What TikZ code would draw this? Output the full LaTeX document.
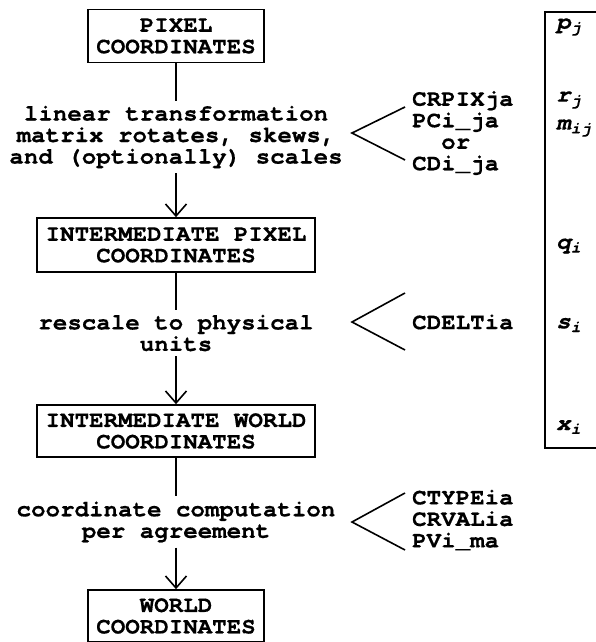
\documentclass[tikz,border=0pt]{standalone}
\usepackage{fontspec}
\setmonofont{texgyrecursor-regular.otf}[
  BoldFont=texgyrecursor-bold.otf,
  ItalicFont=texgyrecursor-italic.otf,
  BoldItalicFont=texgyrecursor-bolditalic.otf,
  BoldFeatures={FakeBold=0.4},
  BoldItalicFeatures={FakeBold=0.4},
  FakeStretch=1.05]
\usetikzlibrary{arrows.meta}

\begin{document}
\begin{tikzpicture}[x=1pt,y=-1pt,
  cfont/.style={font=\ttfamily\bfseries\fontsize{23}{21.5}\selectfont},
  cbox/.style={cfont, draw, line width=1.6pt, align=center, inner sep=0pt},
  lbl/.style={cfont, align=center, inner xsep=0pt, inner ysep=5pt},
  prm/.style={cfont, align=left, anchor=west, inner sep=0pt},
  var/.style={font=\ttfamily\bfseries\itshape\fontsize{23}{21.5}\selectfont, anchor=west, inner sep=0pt},
  flow/.style={line width=1.6pt, -{Straight Barb[length=12pt,width=21pt,line width=1.6pt]}},
  wedge/.style={line width=1.6pt}]
\useasboundingbox (0,0) rectangle (595,642);

%%%%%%%%%%%%%%%%%%%%%%%%%%%%%%%
\node[cbox, minimum width=176pt, minimum height=53pt] (pix) at (176,36) {PIXEL\\COORDINATES};
\node[lbl] (lin) at (176,137) {linear transformation\\matrix rotates, skews,\\and (optionally) scales};
\node[cbox, minimum width=278pt, minimum height=54pt] (ipix) at (176,245) {INTERMEDIATE PIXEL\\COORDINATES};
\node[lbl] (rsc) at (176,333) {rescale to physical\\units};
\node[cbox, minimum width=278pt, minimum height=52pt] (iwld) at (176,431) {INTERMEDIATE WORLD\\COORDINATES};
\node[lbl] (cmp) at (176,522) {coordinate computation\\per agreement};
\node[cbox, minimum width=176pt, minimum height=52pt] (wld) at (176,616) {WORLD\\COORDINATES};

\draw[line width=1.6pt] (pix) -- (lin);
\draw[flow] (lin) -- (ipix);
\draw[line width=1.6pt] (ipix) -- (rsc);
\draw[flow] (rsc) -- (iwld);
\draw[line width=1.6pt] (iwld) -- (cmp);
\draw[flow] (cmp) -- (wld);

%%%%%%%%%%%%%%%%%%%%%%%%%%%%%%%
\node[prm] (crpix) at (412,133) {CRPIXja\\PCi\_ja\\\phantom{CD}or\\CDi\_ja};
\node[prm] (cdelt) at (412,322) {CDELTia};
\node[prm] (ctype) at (412,520) {CTYPEia\\CRVALia\\PVi\_ma};

\draw[wedge] (405,107) -- (352,133) -- (405,160);
\draw[wedge] (405,293) -- (352,322) -- (405,350);
\draw[wedge] (405,493) -- (352,522) -- (405,550);

%%%%%%%%%%%%%%%%%%%%%%%%%%%%%%%
\draw[line width=1.6pt] (598,12) -- (545,12) -- (545,448) -- (598,448);
\node[var] (pj) at (556,27) {p\textsubscript{j}};
\node[var] (rj) at (556,100) {r\textsubscript{j}};
\node[var] (mij) at (556,128) {m\textsubscript{ij}};
\node[var] (qi) at (556,246) {q\textsubscript{i}};
\node[var] (si) at (556,325) {s\textsubscript{i}};
\node[var] (xi) at (556,427) {x\textsubscript{i}};
\end{tikzpicture}
\end{document}
